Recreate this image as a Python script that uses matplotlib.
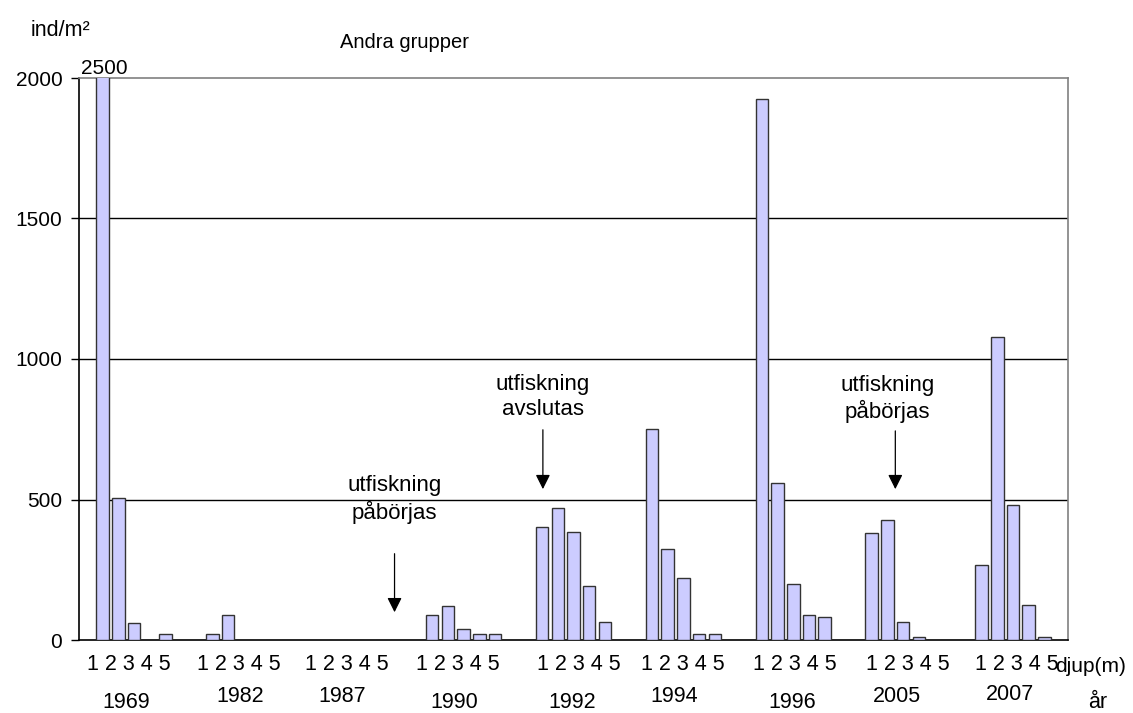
import matplotlib
matplotlib.use("Agg")
import matplotlib.pyplot as plt

plt.rcParams['font.family'] = ['Liberation Sans', 'DejaVu Sans']

# data: individer per m2, djup 1-5 m for each year
years = ['1969', '1982', '1987', '1990', '1992', '1994', '1996', '2005', '2007']
depth_labels = '1 2 3 4 5'
values = [
    [2500, 505, 60, 0, 20],     # 1969
    [20, 90, 0, 0, 0],          # 1982
    [0, 0, 0, 0, 0],            # 1987
    [90, 122, 40, 20, 20],      # 1990
    [403, 471, 383, 192, 65],   # 1992
    [752, 323, 221, 21, 21],    # 1994
    [1925, 560, 200, 90, 83],   # 1996
    [380, 427, 63, 10, 0],      # 2005
    [267, 1078, 480, 124, 10],  # 2007
]
clipped_label = '2500'

# annotations: (text, text x slot, arrow x slot, text y, arrow tail y, arrow tip y)
notes = [
    ('utfiskning\npåbörjas', 19.6, 19.6, 500, 317, 89),
    ('utfiskning\navslutas', 29.05, 29.05, 863, 758, 527),
    ('utfiskning\npåbörjas', 51.0, 51.5, 858, 754, 527),
]

# layout of the group labels (pixel shifts)
label_dx = [-5, -5, -6.5, -5.5, 5.5, -0.5, 1.5, 4.5, 3.5]
year_dx = [-8, -4, -12, -9, -1, -9, -1, -6, -3]
year_y = [703, 697, 697, 703, 703, 696, 703, 697, 694]

fig = plt.figure(figsize=(11.33, 7.13), dpi=100)
W, H = 1133, 713
left, right, top, bottom = 79, 1068, 78, 640
ax = fig.add_axes([left / W, (H - bottom) / H, (right - left) / W, (bottom - top) / H])

slot_px = (right - left) / 63.0
xs, hs = [], []
for g, vals in enumerate(values):
    for d, v in enumerate(vals):
        xs.append(1 + 7 * g + d)
        hs.append(v)

ax.bar(xs, hs, width=0.8, color='#ccccff', edgecolor='#333333', linewidth=1.0, zorder=3)

ax.set_xlim(-0.5, 62.5)
ax.set_ylim(0, 2000)
ax.set_yticks([0, 500, 1000, 1500, 2000])
ax.tick_params(axis='y', direction='out', length=6, width=1, labelsize=15, pad=6)
ax.set_xticks([])
for y in [500, 1000, 1500]:
    ax.axhline(y, color='black', linewidth=1, zorder=1)

ax.spines['left'].set_color('black')
ax.spines['bottom'].set_color('black')
ax.spines['top'].set_color('#808080')
ax.spines['right'].set_color('#808080')
for s in ax.spines.values():
    s.set_linewidth(1.2)

trans = ax.get_xaxis_transform()
for g, yr in enumerate(years):
    cx = 1 + 7 * g + 2
    ax.text(cx + label_dx[g] / slot_px, -(664 - bottom) / (bottom - top), depth_labels,
            transform=trans, ha='center', va='center', fontsize=15.5)
    ax.text(cx + year_dx[g] / slot_px, -(year_y[g] - bottom) / (bottom - top), yr,
            transform=trans, ha='center', va='center', fontsize=15.5)

ax.text(1.1, 2000, clipped_label, ha='center', va='bottom', fontsize=15, clip_on=False)

for txt, tx, axx, ty, tail, tip in notes:
    ax.text(tx, ty, txt, ha='center', va='center', fontsize=16, linespacing=1.25, zorder=4)
    ax.annotate('', xy=(axx, tip), xytext=(axx, tail),
                arrowprops=dict(arrowstyle='-|>', color='black', lw=0.9, mutation_scale=22),
                zorder=4)

fig.text(1055 / W, 1 - 666 / H, 'djup(m)', ha='left', va='center', fontsize=15)
fig.text(1098 / W, 1 - 703 / H, 'år', ha='center', va='center', fontsize=15.5)
fig.text(405 / W, 1 - 43 / H, 'Andra grupper', ha='center', va='center', fontsize=14.5)
fig.text(31 / W, 1 - 31 / H, 'ind/m²', ha='left', va='center', fontsize=15.5)

fig.savefig('out.png', dpi=100)
